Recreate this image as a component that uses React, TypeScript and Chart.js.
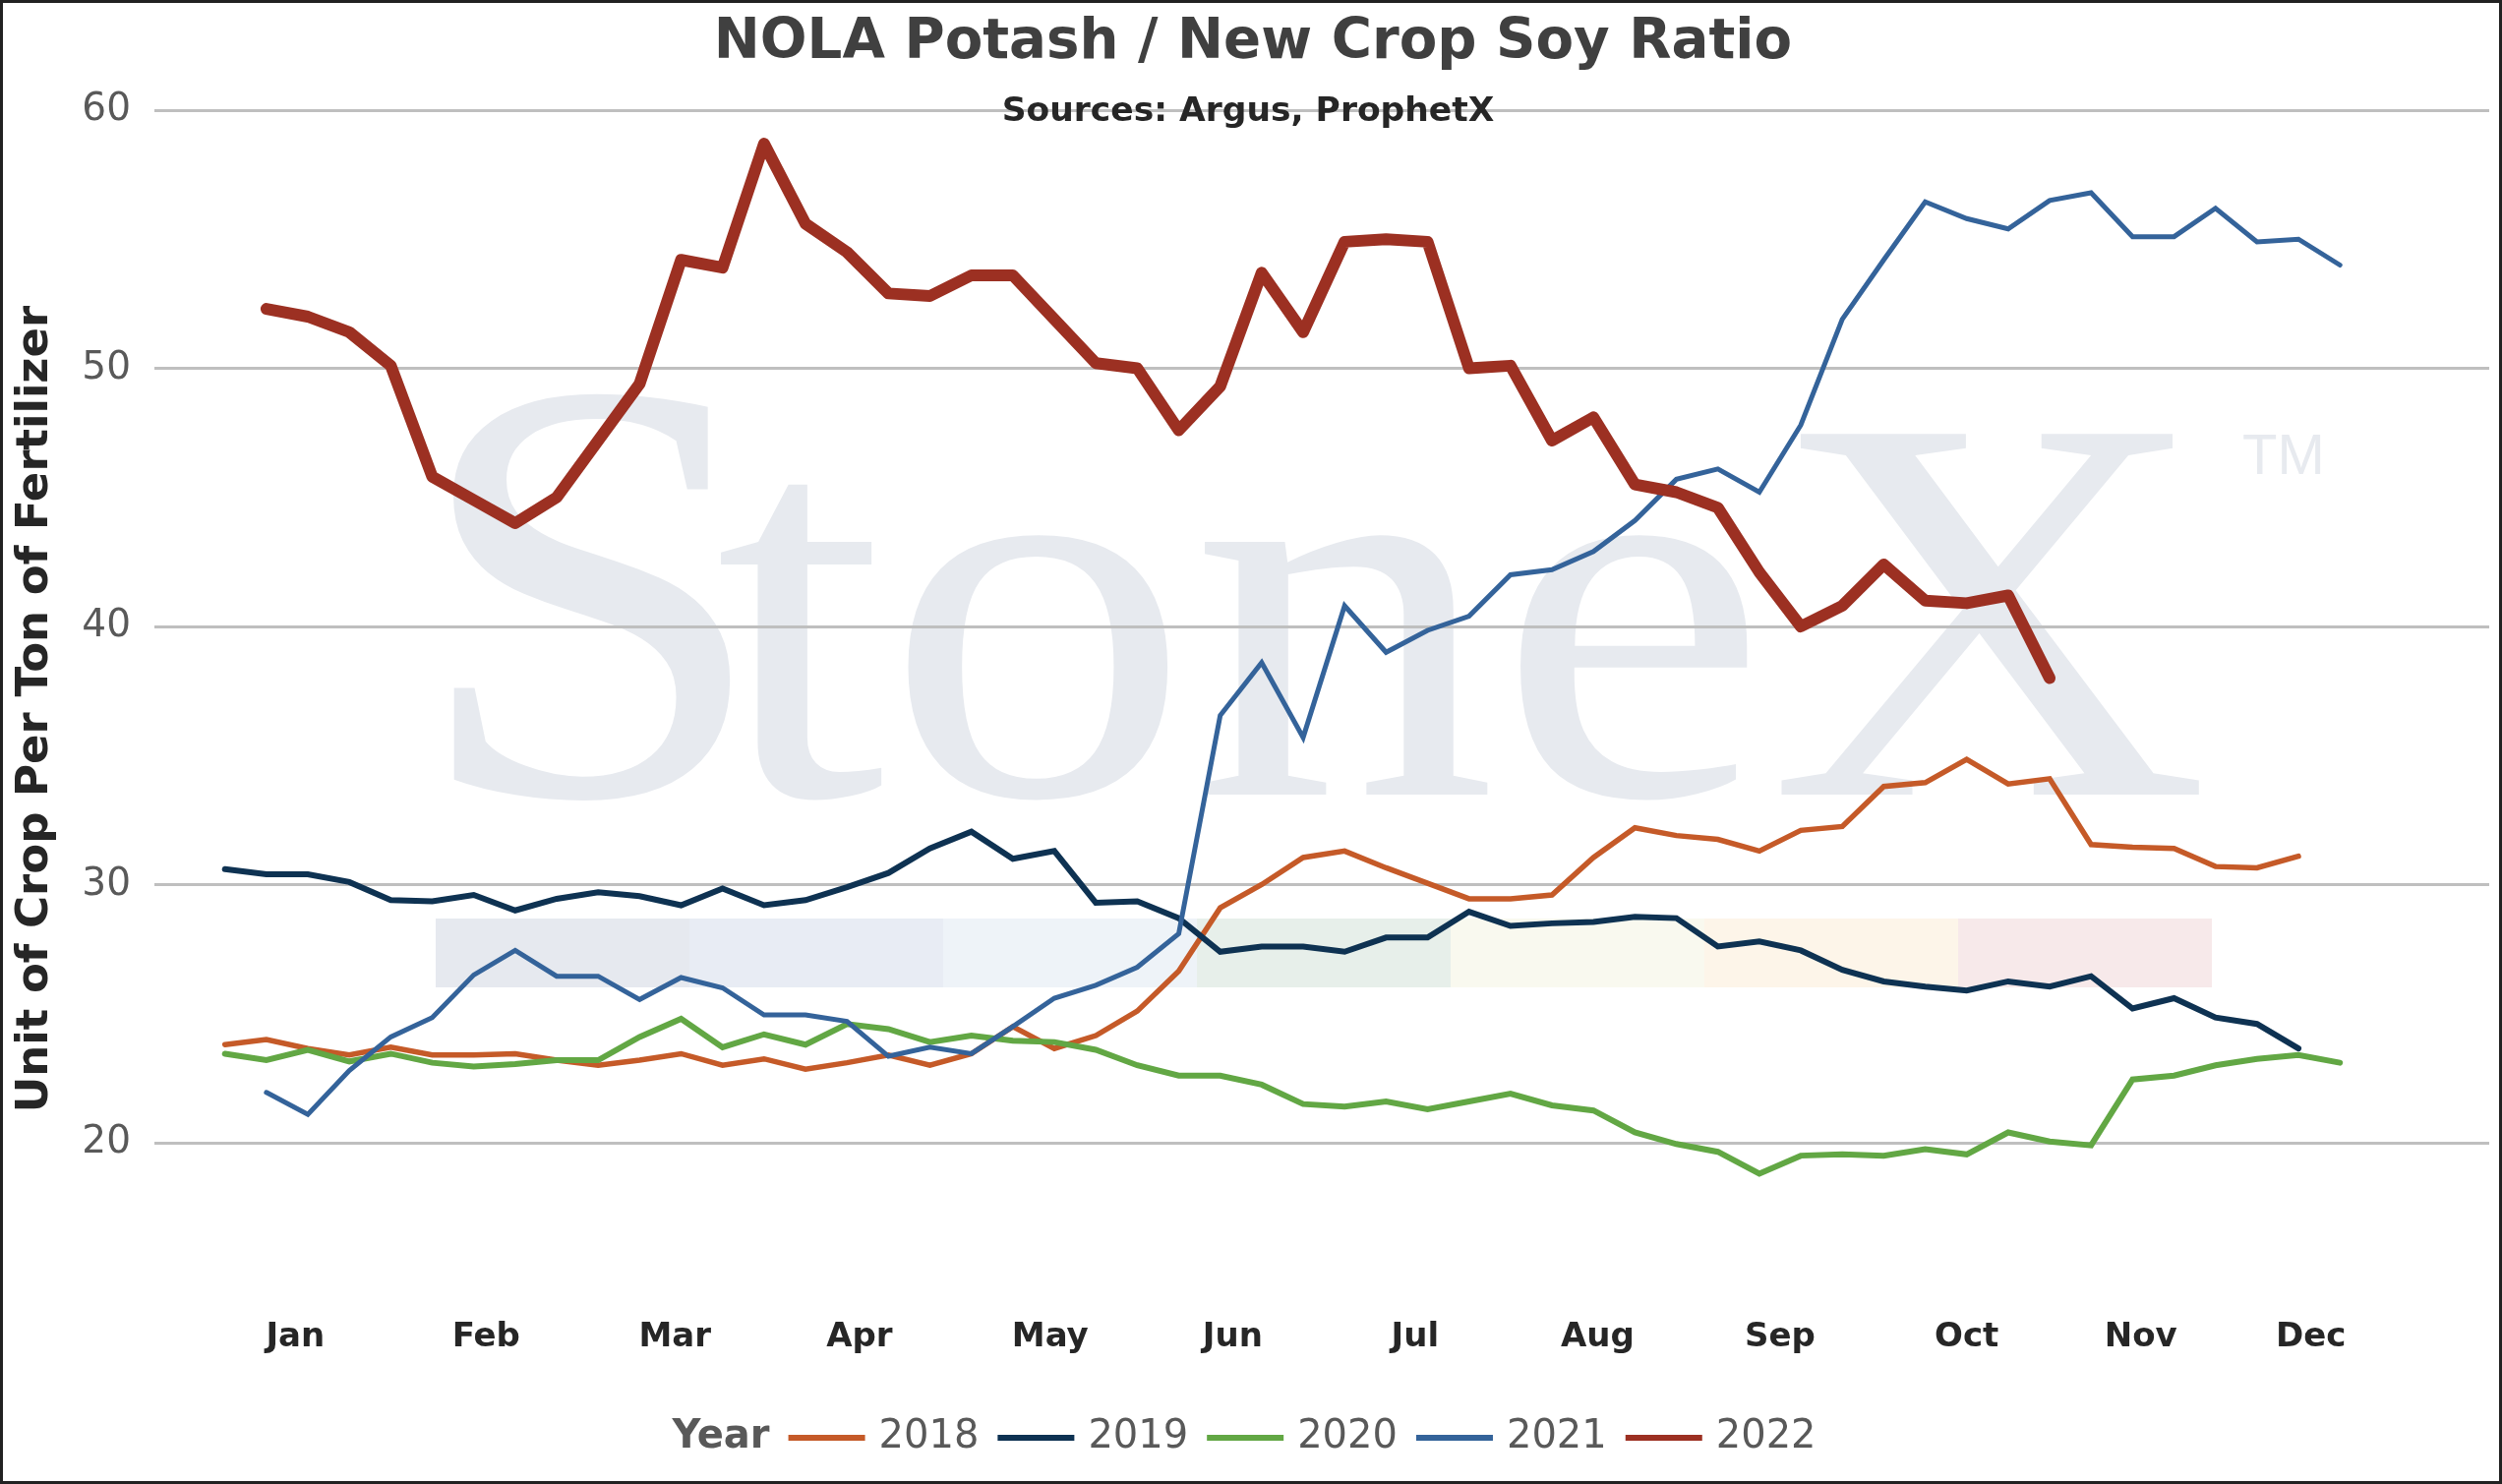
import React, { useEffect, useRef } from "react";
import { Chart, registerables } from "chart.js";

Chart.register(...registerables);

const TITLE = "NOLA Potash / New Crop Soy Ratio";
const SUBTITLE = "Sources: Argus, ProphetX";
const Y_TITLE = "Unit of Crop Per Ton of Fertilizer";
const LEGEND_TITLE = "Year";

const MONTHS = ["Jan", "Feb", "Mar", "Apr", "May", "Jun", "Jul", "Aug", "Sep", "Oct", "Nov", "Dec"];
// where each month label sits, in weeks
const MONTH_POS = [1.7, 6.3, 10.85, 15.3, 19.9, 24.3, 28.7, 33.1, 37.5, 42.0, 46.2, 50.3];
const Y_TICKS = [20, 30, 40, 50, 60];

const YEARS = ["2018", "2019", "2020", "2021", "2022"];
const FIRST_WEEK = [0, 0, 0, 1, 1];

const RATIO_2018 = [
  23.8, 24.0, 23.65, 23.4, 23.7, 23.4, 23.4, 23.45, 23.2, 23.0,
  23.2, 23.45, 23.0, 23.25, 22.85, 23.1, 23.4, 23.0, 23.45, 24.5,
  23.65, 24.15, 25.1, 26.65, 29.1, 30.0, 31.05, 31.3, 30.65, 30.05,
  29.45, 29.45, 29.6, 31.05, 32.2, 31.9, 31.75, 31.3, 32.1, 32.25,
  33.8, 33.95, 34.85, 33.9, 34.1, 31.55, 31.45, 31.4, 30.7, 30.65, 31.1,
];
const RATIO_2019 = [
  30.6, 30.4, 30.4, 30.1, 29.4, 29.35, 29.6, 29.0, 29.45, 29.7,
  29.55, 29.2, 29.85, 29.2, 29.4, 29.9, 30.45, 31.4, 32.05, 31.0,
  31.3, 29.3, 29.35, 28.7, 27.4, 27.6, 27.6, 27.4, 27.95, 27.95,
  28.95, 28.4, 28.5, 28.55, 28.75, 28.7, 27.6, 27.8, 27.45, 26.7,
  26.25, 26.05, 25.9, 26.25, 26.05, 26.45, 25.2, 25.6, 24.85, 24.6, 23.65,
];
const RATIO_2020 = [
  23.45, 23.2, 23.6, 23.15, 23.45, 23.1, 22.95, 23.05, 23.2, 23.2,
  24.1, 24.8, 23.7, 24.2, 23.8, 24.6, 24.4, 23.9, 24.15, 23.95,
  23.9, 23.6, 23.0, 22.6, 22.6, 22.25, 21.5, 21.4, 21.6, 21.3,
  21.6, 21.9, 21.45, 21.25, 20.4, 19.95, 19.65, 18.8, 19.5, 19.55,
  19.5, 19.75, 19.55, 20.4, 20.05, 19.9, 22.45, 22.6, 23.0, 23.25, 23.4, 23.1,
];
const RATIO_2021 = [
  21.95, 21.1, 22.8, 24.1, 24.85, 26.5, 27.45, 26.45, 26.45,
  25.55, 26.4, 26.0, 24.95, 24.95, 24.7, 23.35, 23.7, 23.45, 24.5,
  25.6, 26.1, 26.8, 28.1, 36.55, 38.6, 35.7, 40.8, 39.0, 39.85,
  40.4, 42.0, 42.2, 42.9, 44.1, 45.7, 46.1, 45.2, 47.8, 51.9,
  54.2, 56.45, 55.8, 55.4, 56.5, 56.8, 55.1, 55.1, 56.2, 54.9, 55.0, 54.0,
];
const RATIO_2022 = [
  52.3, 52.0, 51.4, 50.1, 45.8, 44.9, 44.0, 45.0, 47.2, 49.4,
  54.2, 53.9, 58.7, 55.6, 54.5, 52.9, 52.8, 53.6, 53.6, 51.9,
  50.2, 50.0, 47.6, 49.3, 53.7, 51.4, 54.9, 55.0, 54.9, 50.0,
  50.1, 47.2, 48.1, 45.5, 45.2, 44.6, 42.1, 40.0, 40.8, 42.4,
  41.0, 40.9, 41.2, 38.0,
];
const SERIES = [RATIO_2018, RATIO_2019, RATIO_2020, RATIO_2021, RATIO_2022];

const COLORS = ["#c55a28", "#0e3252", "#62a744", "#34639a", "#9c3022"];
const WIDTHS = [5.5, 6, 6, 5, 12];

const FONT = "'DejaVu Sans', Verdana, sans-serif";
const SERIF = "'Liberation Serif', 'Times New Roman', serif";
const BAND_COLORS = ["#e6e9ef", "#e8ecf4", "#eef3f8", "#e7efea", "#f9f9ef", "#fdf5e9", "#f7e9ea"];

// size a font so the text spans a given width
function fitFont(ctx: CanvasRenderingContext2D, text: string, weight: string, family: string, width: number) {
  ctx.font = `${weight} 100px ${family}`;
  const w = ctx.measureText(text).width;
  return `${weight} ${((100 * width) / w).toFixed(1)}px ${family}`;
}

const decorPlugin = {
  id: "decor",
  beforeDraw(chart: Chart) {
    const ctx = chart.ctx;
    ctx.save();
    // StoneX watermark, coloured strip underneath
    BAND_COLORS.forEach((c, k) => {
      ctx.fillStyle = c;
      ctx.fillRect(440 + k * 258, 931, 258, 70);
    });
    ctx.fillStyle = "#e7eaef";
    ctx.textAlign = "left";
    ctx.textBaseline = "alphabetic";

    ctx.save();
    ctx.translate(414, 805);
    ctx.scale(1.07, 1);
    ctx.font = `615px ${SERIF}`;
    ctx.fillText("S", 0, 0);
    ctx.restore();

    ctx.save();
    ctx.font = `560px ${SERIF}`;
    const w = ctx.measureText("toneX").width;
    ctx.translate(724, 805);
    ctx.scale(1520 / w, 1);
    ctx.fillText("toneX", 0, 0);
    ctx.restore();

    ctx.font = "58px 'Liberation Sans Narrow', 'Liberation Sans', sans-serif";
    ctx.fillText("TM", 2277, 479);
    ctx.restore();
  },
  afterDraw(chart: Chart) {
    const ctx = chart.ctx;
    ctx.save();
    ctx.textAlign = "center";
    ctx.textBaseline = "middle";
    ctx.fillStyle = "#404040";
    ctx.font = fitFont(ctx, TITLE, "bold", FONT, 1097);
    ctx.fillText(TITLE, 1271, 41);
    ctx.fillStyle = "#262626";
    ctx.font = fitFont(ctx, SUBTITLE, "bold", FONT, 501);
    ctx.fillText(SUBTITLE, 1266, 111);

    // legend
    const y = 1459;
    const lineLen = 78;
    ctx.textAlign = "left";
    ctx.font = `bold 40px ${FONT}`;
    const titleW = ctx.measureText(LEGEND_TITLE).width;
    ctx.font = `40px ${FONT}`;
    const widths = YEARS.map((t) => ctx.measureText(t).width);
    const total = titleW + widths.reduce((a, w) => a + 19 + lineLen + 14 + w, 0);
    let x = 1262 - total / 2;
    ctx.fillStyle = "#595959";
    ctx.font = `bold 40px ${FONT}`;
    ctx.fillText(LEGEND_TITLE, x, y);
    x += titleW;
    ctx.font = `40px ${FONT}`;
    YEARS.forEach((t, k) => {
      x += 19;
      ctx.strokeStyle = COLORS[k];
      ctx.lineWidth = 6;
      ctx.beginPath();
      ctx.moveTo(x, y);
      ctx.lineTo(x + lineLen, y);
      ctx.stroke();
      x += lineLen + 14;
      ctx.fillStyle = "#595959";
      ctx.fillText(t, x, y);
      x += widths[k];
    });
    ctx.restore();
  },
};

export default function App() {
  const canvasRef = useRef<HTMLCanvasElement>(null);
  const chartRef = useRef<Chart | null>(null);

  useEffect(() => {
    document.body.style.margin = "0";
    if (!canvasRef.current) return;
    if (chartRef.current) chartRef.current.destroy();

    const datasets = YEARS.map((year, k) => ({
      label: year,
      data: SERIES[k].map((v, j) => ({ x: FIRST_WEEK[k] + j, y: v })),
      borderColor: COLORS[k],
      backgroundColor: COLORS[k],
      borderWidth: WIDTHS[k],
      pointRadius: 0,
      tension: 0,
      borderCapStyle: "round" as const,
      borderJoinStyle: (k === 4 ? "round" : "miter") as CanvasLineJoin,
      order: YEARS.length - k,
    }));

    chartRef.current = new Chart(canvasRef.current, {
      type: "line",
      data: { datasets },
      plugins: [decorPlugin],
      options: {
        animation: false,
        responsive: true,
        maintainAspectRatio: false,
        devicePixelRatio: 1,
        layout: { padding: { top: 109, right: 10, bottom: 116, left: 0 } },
        plugins: {
          legend: { display: false },
          tooltip: { enabled: false },
        },
        scales: {
          x: {
            type: "linear",
            min: -1.7,
            max: 54.6,
            grid: { display: false, drawTicks: false },
            border: { display: false },
            afterBuildTicks: (s: any) => {
              s.ticks = MONTH_POS.map((v) => ({ value: v }));
            },
            afterFit: (s: any) => {
              s.height = 60;
            },
            ticks: {
              autoSkip: false,
              maxRotation: 0,
              padding: 10,
              color: "#262626",
              font: { family: FONT, size: 34, weight: "bold" },
              callback: (_v: any, i: number) => MONTHS[i],
            },
          },
          y: {
            min: 13.6,
            max: 60,
            afterBuildTicks: (s: any) => {
              s.ticks = Y_TICKS.map((v) => ({ value: v }));
            },
            afterFit: (s: any) => {
              s.width = 154;
            },
            grid: { color: "#bfbfbf", lineWidth: 3, drawTicks: false },
            border: { display: false },
            ticks: {
              padding: 24,
              color: "#595959",
              font: { family: FONT, size: 39 },
            },
            title: {
              display: true,
              text: Y_TITLE,
              color: "#262626",
              font: { family: FONT, size: 45, weight: "bold" },
              padding: { top: 6, bottom: 0 },
            },
          },
        },
      },
    });

    return () => {
      if (chartRef.current) {
        chartRef.current.destroy();
        chartRef.current = null;
      }
    };
  }, []);

  return (
    <div
      style={{
        width: 2544,
        height: 1509,
        boxSizing: "border-box",
        border: "3px solid #222",
        background: "#fff",
        position: "relative",
      }}
    >
      <div style={{ position: "relative", width: "100%", height: "100%" }}>
        <canvas ref={canvasRef} />
      </div>
    </div>
  );
}
